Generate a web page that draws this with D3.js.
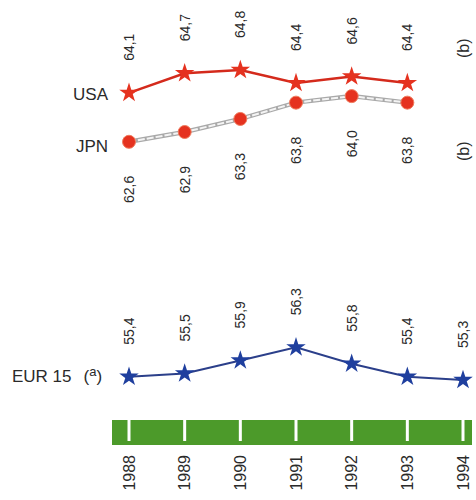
<!DOCTYPE html>
<html>
<head>
<meta charset="utf-8">
<script src="https://cdn.jsdelivr.net/npm/d3@7"></script>
<style>
  html, body { margin: 0; padding: 0; background: #fff; }
  svg { display: block; }
  .lbl { font-family: "Liberation Sans", Arial, sans-serif; font-size: 17px; fill: #2a2a2a; }
  .val { font-family: "Liberation Sans", Arial, sans-serif; font-size: 14px; fill: #2a2a2a; }
  .yr { font-family: "Liberation Sans", Arial, sans-serif; font-size: 16px; fill: #2a2a2a; }
</style>
</head>
<body>
<svg id="chart" width="476" height="500"></svg>
<script>
// ---- data ----
const years = [1988, 1989, 1990, 1991, 1992, 1993, 1994];
const usaYears = [1988, 1989, 1990, 1991, 1992, 1993];
const usaValues = [64.1, 64.7, 64.8, 64.4, 64.6, 64.4];
const jpnYears = [1988, 1989, 1990, 1991, 1992, 1993];
const jpnValues = [62.6, 62.9, 63.3, 63.8, 64.0, 63.8];
const eurYears = [1988, 1989, 1990, 1991, 1992, 1993, 1994];
const eurValues = [55.4, 55.5, 55.9, 56.3, 55.8, 55.4, 55.3];
const seriesNames = ["USA", "JPN", "EUR 15"];
const noteLabels = ["(b)", "(b)", "a"];
const fmt = v => d3.format(".1f")(v).replace(".", ",");

const svg = d3.select("#chart");

const x = d3.scalePoint().domain(years).range([129, 463]);
const y = d3.scaleLinear().domain([55.3, 64.8]).range([380, 70]);

const red = "#e5321f", redLine = "#d42a1c";
const blue = "#1f3f9e", blueLine = "#2b3f8a";

const star = d3.symbol().type(d3.symbolStar).size(118);

// ---- green year band ----
svg.append("rect").attr("x", 112).attr("y", 420).attr("width", 360).attr("height", 25)
  .attr("fill", "#4c9a2a");
svg.append("g").selectAll("line").data(years).join("line")
  .attr("x1", d => x(d)).attr("x2", d => x(d))
  .attr("y1", 420).attr("y2", 441)
  .attr("stroke", "#fff").attr("stroke-width", 3);
svg.append("g").selectAll("text").data(years).join("text")
  .attr("class", "yr")
  .attr("transform", d => `translate(${x(d)},455) rotate(-90)`)
  .attr("dy", "0.36em").attr("text-anchor", "end")
  .text(d => d);

// ---- JPN ----
const jpn = jpnYears.map((d, i) => ({ year: d, v: jpnValues[i] }));
const line = d3.line().x(d => x(d.year)).y(d => y(d.v));
svg.append("path").datum(jpn).attr("d", line)
  .attr("fill", "none").attr("stroke", "#a9a9a9").attr("stroke-width", 4.5);
svg.append("path").datum(jpn).attr("d", line)
  .attr("fill", "none").attr("stroke", "#f4f4f4").attr("stroke-width", 2)
  .attr("stroke-dasharray", "7,2");
svg.append("g").selectAll("circle").data(jpn).join("circle")
  .attr("cx", d => x(d.year)).attr("cy", d => y(d.v)).attr("r", 6.5)
  .attr("fill", red).attr("stroke", "#f07a5c").attr("stroke-width", 1);
svg.append("g").selectAll("text").data(jpn).join("text")
  .attr("class", "val")
  .attr("transform", d => `translate(${x(d.year)},${y(d.v) + 34}) rotate(-90)`)
  .attr("dy", "0.36em").attr("text-anchor", "end")
  .text(d => fmt(d.v));

// ---- USA ----
const usa = usaYears.map((d, i) => ({ year: d, v: usaValues[i] }));
svg.append("path").datum(usa).attr("d", line)
  .attr("fill", "none").attr("stroke", redLine).attr("stroke-width", 2.5);
svg.append("g").selectAll("path").data(usa).join("path")
  .attr("d", star)
  .attr("transform", d => `translate(${x(d.year)},${y(d.v)})`)
  .attr("fill", red);
svg.append("g").selectAll("text").data(usa).join("text")
  .attr("class", "val")
  .attr("transform", d => `translate(${x(d.year)},${y(d.v) - 32}) rotate(-90)`)
  .attr("dy", "0.36em").attr("text-anchor", "start")
  .text(d => fmt(d.v));

// ---- EUR 15 ----
const eur = eurYears.map((d, i) => ({ year: d, v: eurValues[i] }));
svg.append("path").datum(eur).attr("d", line)
  .attr("fill", "none").attr("stroke", blueLine).attr("stroke-width", 2);
svg.append("g").selectAll("path").data(eur).join("path")
  .attr("d", star)
  .attr("transform", d => `translate(${x(d.year)},${y(d.v)})`)
  .attr("fill", blue);
svg.append("g").selectAll("text").data(eur).join("text")
  .attr("class", "val")
  .attr("transform", d => `translate(${x(d.year)},${y(d.v) - 32}) rotate(-90)`)
  .attr("dy", "0.36em").attr("text-anchor", "start")
  .text(d => fmt(d.v));

// ---- series labels ----
svg.append("text").attr("class", "lbl").attr("x", 108).attr("y", y(usaValues[0]) + 7)
  .attr("text-anchor", "end").text(seriesNames[0]);
svg.append("text").attr("class", "lbl").attr("x", 108).attr("y", y(jpnValues[0]) + 10)
  .attr("text-anchor", "end").text(seriesNames[1]);
const eurLbl = svg.append("text").attr("class", "lbl").attr("x", 12).attr("y", y(eurValues[0]) + 5);
eurLbl.append("tspan").text(seriesNames[2]);
eurLbl.append("tspan").attr("dx", 12).text("(");
eurLbl.append("tspan").attr("dy", -6).attr("font-size", 13).text(noteLabels[2]);
eurLbl.append("tspan").attr("dy", 6).text(")");

// ---- (b) notes ----
svg.append("text").attr("class", "val").style("font-size", "16px")
  .attr("transform", `translate(${x(1994)},58) rotate(-90)`)
  .attr("dy", "0.36em").text(noteLabels[0]);
svg.append("text").attr("class", "val").style("font-size", "16px")
  .attr("transform", `translate(${x(1994)},161) rotate(-90)`)
  .attr("dy", "0.36em").text(noteLabels[1]);
</script>
</body>
</html>
